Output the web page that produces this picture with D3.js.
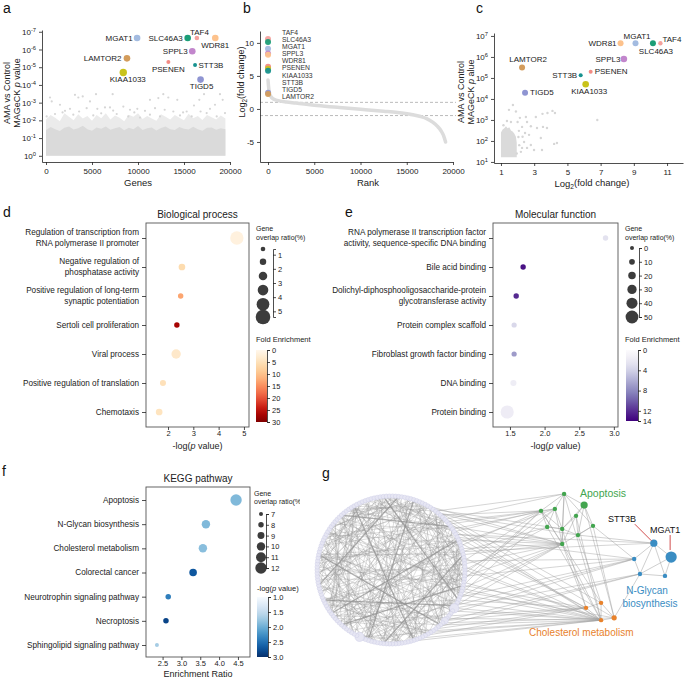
<!DOCTYPE html>
<html>
<head>
<meta charset="utf-8">
<script src="https://cdn.jsdelivr.net/npm/d3@7"></script>
<style>
  body { margin: 0; background: #fff; }
  svg { display: block; font-family: "Liberation Sans", Arial, sans-serif; }
</style>
</head>
<body>
<svg id="fig" width="685" height="679"></svg>
<script>
// ---------- data: screen hits ----------
var genes = ['TAF4', 'SLC46A3', 'MGAT1', 'SPPL3', 'WDR81', 'PSENEN', 'KIAA1033', 'STT3B', 'TIGD5', 'LAMTOR2'];
var geneColors = ['#f4a29e', '#1b9e77', '#a3bbe0', '#c286cc', '#fdc28c', '#f28b84', '#c9c31c', '#17928f', '#8f95d2', '#d39c5c'];
var genePos = [16400, 15400, 9900, 15900, 18400, 13300, 8400, 16200, 16800, 8800];
var geneLogP = [-6.65, -6.65, -6.65, -5.9, -6.65, -5.3, -4.7, -5.13, -4.3, -5.5];
var geneLFC = [10.6, 10.15, 9.1, 8.4, 8.2, 6.4, 6.1, 5.8, 2.45, 2.27];

// panel a background genes (log10 p)
var aBinGene = [0, 500, 1000, 1500, 2000, 2500, 3000, 3500, 4000, 4500, 5000, 5500, 6000, 6500, 7000, 7500, 8000, 8500, 9000, 9500,
  10000, 10500, 11000, 11500, 12000, 12500, 13000, 13500, 14000, 14500, 15000, 15500, 16000, 16500, 17000, 17500, 18000, 18500, 19000, 19500];
var aDenseTop = [-1.45, -1.62, -1.5, -1.4, -1.58, -1.66, -1.48, -1.55, -1.7, -1.5, -1.42, -1.6, -1.52, -1.65, -1.47, -1.56, -1.62, -1.44, -1.58, -1.5,
  -1.68, -1.46, -1.55, -1.6, -1.43, -1.57, -1.66, -1.5, -1.45, -1.62, -1.53, -1.48, -1.64, -1.5, -1.42, -1.58, -1.6, -1.47, -1.55, -1.5];
var aSpeckleTop = [-2.05, -2.3, -2.15, -1.95, -2.4, -2.2, -2.0, -2.35, -2.1, -2.25, -1.98, -2.3, -2.12, -2.4, -2.05, -2.28, -2.15, -1.95, -2.32, -2.2,
  -2.4, -2.08, -2.25, -2.1, -1.98, -2.35, -2.2, -2.05, -2.3, -2.15, -2.0, -2.38, -2.12, -2.25, -2.02, -2.3, -2.18, -2.05, -2.28, -2.1];
var aOutliers = [[435, -3.29], [620, -3.07], [3150, -3.44], [3515, -3.29], [3990, -3.35], [5435, -3.48], [7245, -3.48],
  [5580, -2.65], [6410, -2.73], [6955, -2.73], [9925, -2.65], [11300, -3.16], [12210, -3.26], [12750, -3.48],
  [13295, -3.29], [14270, -3.16], [16085, -2.84], [16665, -3.16], [17175, -3.48], [17825, -2.65], [18370, -2.88],
  [18910, -3.48], [19205, -3.16], [1520, -2.88], [2065, -2.54], [2610, -2.65], [4420, -2.69], [4780, -3.07],
  [8405, -2.78], [9130, -2.6], [10760, -2.54], [11850, -2.69], [13840, -2.5], [15290, -2.5], [17465, -2.41],
  [75, -2.22], [980, -2.36], [2970, -2.32], [5140, -2.28], [7685, -2.36], [8945, -2.22], [10215, -2.16],
  [11300, -2.32], [12390, -2.22], [14565, -2.28], [15835, -2.22], [18555, -2.22], [19455, -2.41],
  [1800, -2.45], [3600, -2.5], [6000, -2.4], [7300, -2.55], [9600, -2.45], [12900, -2.6], [14900, -2.45], [16800, -2.5]];

// panel b ranked fold change curve
var bRank = [0, 60, 150, 300, 600, 1000, 2000, 3000, 5000, 7500, 10000, 12500, 14000, 15500, 16500, 17200, 17800, 18300, 18700, 19000, 19200];
var bLFC = [4.4, 3.4, 2.4, 1.9, 1.5, 1.3, 1.05, 0.9, 0.55, 0.25, -0.05, -0.35, -0.55, -0.85, -1.15, -1.5, -2.0, -2.6, -3.3, -4.1, -5.0];

// panel c background genes
var cBlockLFC = [1.0, 1.1, 1.2, 1.3, 1.4, 1.5, 1.6, 1.7, 1.8, 1.9, 1.95];
var cBlockTop = [-2.4, -2.55, -2.6, -2.7, -2.6, -2.65, -2.5, -2.45, -2.35, -2.2, -1.9];
var cBlockBottom = -1.22;
var cOutliers = [[1.72, -3.71], [1.48, -3.48], [1.9, -3.4], [2.14, -3.1], [2.5, -3.14], [3.1, -3.14], [3.5, -3.29],
  [3.8, -3.33], [4.1, -3.43], [4.25, -3.33], [1.36, -2.95], [2.57, -2.9], [2.8, -2.7], [2.27, -2.67], [3.17, -2.62],
  [3.53, -2.67], [3.77, -2.62], [2.08, -2.48], [2.45, -2.38], [2.69, -2.29], [3.4, -2.14], [2.39, -1.95], [2.8, -1.81],
  [4.2, -1.86], [4.37, -1.9], [3.47, -1.57], [2.99, -1.57], [2.2, -1.48], [2.57, -1.67], [2.1, -1.8], [2.05, -2.19],
  [2.27, -1.67], [6.8, -3.0], [1.6, -2.9], [1.15, -2.75], [2.0, -2.9], [1.95, -1.4], [2.3, -2.2]];

// panel d: GO biological process
var dTerms = [['Regulation of transcription from', 'RNA polymerase II promoter'], ['Negative regulation of', 'phosphatase activity'],
  ['Positive regulation of long-term', 'synaptic potentiation'], ['Sertoli cell proliferation'], ['Viral process'],
  ['Positive regulation of translation'], ['Chemotaxis']];
var dLogP = [4.72, 2.55, 2.5, 2.35, 2.32, 1.8, 1.65];
var dRatio = [4.8, 1.6, 1.0, 1.0, 2.9, 1.3, 1.6];
var dFold = [1.5, 6, 13, 27, 3.5, 5, 4.5];

// panel e: GO molecular function
var eTerms = [['RNA polymerase II transcription factor', 'activity, sequence-specific DNA binding'], ['Bile acid binding'],
  ['Dolichyl-diphosphooligosaccharide-protein', 'glycotransferase activity'], ['Protein complex scaffold'],
  ['Fibroblast growth factor binding'], ['DNA binding'], ['Protein binding']];
var eLogP = [2.88, 1.69, 1.59, 1.56, 1.56, 1.55, 1.46];
var eRatio = [8, 8, 8, 7, 7, 12, 52];
var eFold = [2.7, 13.2, 12.2, 3.5, 7, 1.7, 1.75];

// panel f: KEGG
var fTerms = [['Apoptosis'], ['N-Glycan biosynthesis'], ['Cholesterol metabolism'], ['Colorectal cancer'],
  ['Neurotrophin signaling pathway'], ['Necroptosis'], ['Sphingolipid signaling pathway']];
var fEnrich = [4.45, 3.65, 3.57, 3.31, 2.65, 2.59, 2.35];
var fRatio = [12, 10, 10, 9.4, 8, 8, 7];
var fLogP = [1.9, 1.9, 1.85, 2.7, 2.4, 2.85, 1.7];

// panel g: network (layout units)
var ringCount = 150;
var ringCenter = [23.64, 29.87];
var ringRadius = 19.2;
var apoptosisNodes = [[68.6, 10.1], [73.8, 13.0], [66.2, 14.0], [62.6, 14.5], [71.7, 15.8], [64.2, 18.7], [68.1, 19.2], [76.1, 18.4], [72.2, 20.8], [68.1, 23.1]];
var cholNodes = [[78.2, 38.4], [74.3, 39.7], [81.6, 42.3], [78.2, 42.9]];
var glycanNodes = [[91.9, 22.9], [96.4, 26.5], [86.8, 27.0], [94.8, 31.4], [88.3, 30.9]];
var apoptosisEdges = [[0, 2], [0, 6], [0, 9], [0, 1], [0, 7], [0, 3], [1, 4], [1, 7], [1, 8], [1, 6], [2, 3], [2, 6], [2, 9], [3, 6], [3, 9], [3, 5],
  [4, 6], [4, 9], [5, 6], [6, 9], [7, 8], [6, 8], [7, 9], [2, 5], [4, 8]];
var glycanEdges = [[0, 1], [0, 2], [0, 3], [0, 4], [1, 3], [2, 4], [3, 4], [1, 4]];
var cholEdges = [[0, 3], [1, 3], [2, 3], [0, 2], [0, 1]];
var crossEdges = [['A9', 'C3'], ['A8', 'C0'], ['A7', 'C2'], ['A1', 'C2'], ['A6', 'C1'], ['A5', 'C3'], ['A4', 'C3'], ['A0', 'C3'],
  ['A7', 'N2'], ['A8', 'N0'], ['C2', 'N4'], ['A9', 'C1'], ['A3', 'C0']];
var ringToCluster = [[140, 'A9'], [145, 'A9'], [148, 'A9'], [2, 'A9'], [6, 'A9'], [9, 'A9'], [12, 'A9'], [138, 'A9'], [135, 'A9'], [143, 'A9'],
  [130, 'A3'], [134, 'A3'], [137, 'A3'], [142, 'A3'], [147, 'A3'], [3, 'A3'], [128, 'A0'], [132, 'A0'], [136, 'A2'], [141, 'A2'], [1, 'A2'],
  [144, 'A5'], [0, 'A5'], [146, 'C3'], [149, 'C3'], [4, 'C3'], [8, 'C3'], [11, 'C3'], [14, 'C3'], [17, 'C3'], [20, 'C3'], [24, 'C3'],
  [28, 'C3'], [31, 'C3'], [133, 'C3'], [139, 'C1'], [5, 'C1'], [10, 'C1'], [16, 'C1'], [22, 'C1'], [131, 'C2'], [7, 'C2'], [19, 'C2'],
  [126, 'C0'], [2, 'N2'], [9, 'N2'], [15, 'N2'], [139, 'N2'], [13, 'N4'], [21, 'N4'], [144, 'N0'], [127, 'A6'], [129, 'A8'],
  [125, 'A9'], [129, 'A9'], [133, 'A3'], [0, 'C3'], [6, 'C3'], [13, 'C3'], [18, 'C1'], [23, 'C3'], [26, 'C1'], [136, 'C3'],
  [141, 'C1'], [5, 'A3'], [8, 'A2'], [12, 'N2'], [18, 'N4'], [138, 'N0'], [147, 'N2']];
var ringChords = [[0, 75], [3, 62], [5, 98], [8, 120], [10, 47], [12, 88], [15, 130], [17, 66], [20, 104], [22, 141],
  [25, 70], [27, 112], [30, 90], [32, 135], [35, 80], [37, 118], [40, 95], [42, 145], [45, 100], [47, 127],
  [50, 85], [52, 110], [55, 139], [57, 92], [60, 122], [62, 101], [65, 143], [67, 108], [70, 125], [72, 3],
  [75, 116], [77, 138], [80, 14], [82, 121], [85, 29], [87, 133], [90, 6], [92, 147], [95, 38], [97, 124],
  [100, 19], [102, 60], [105, 137], [107, 31], [110, 9], [112, 73], [115, 44], [117, 148], [120, 58], [122, 26],
  [125, 83], [127, 11], [130, 64], [132, 36], [135, 97], [137, 52], [140, 78], [142, 21], [145, 68], [147, 33],
  [1, 54], [4, 86], [7, 113], [9, 140], [13, 39], [16, 93], [18, 128], [21, 77], [23, 57], [28, 99],
  [31, 146], [34, 71], [36, 109], [39, 84], [41, 131], [44, 63], [46, 119], [49, 2], [51, 96], [54, 134],
  [56, 81], [59, 17], [61, 106], [64, 149], [66, 24], [69, 91], [71, 129], [74, 43], [76, 103], [79, 144],
  [81, 11], [84, 126], [86, 50], [89, 115], [91, 136], [94, 8], [96, 61], [99, 142], [101, 27], [104, 79],
  [106, 132], [109, 53], [111, 4], [114, 89], [116, 40], [119, 67], [121, 0], [123, 46], [126, 94], [128, 19],
  [131, 74], [133, 102], [136, 28], [139, 56], [141, 87], [143, 111], [146, 37], [148, 65], [149, 105], [144, 16],
  [2, 107], [6, 34], [11, 59], [14, 82], [19, 123], [24, 48], [26, 93], [29, 117], [33, 76], [38, 142],
  [43, 88], [48, 127], [53, 100], [58, 141], [63, 10], [68, 113], [73, 148], [78, 30], [83, 135], [88, 5],
  [0, 40], [2, 88], [4, 120], [6, 60], [8, 100], [10, 135], [12, 55], [14, 95], [16, 140], [18, 70],
  [20, 115], [22, 45], [24, 85], [26, 130], [28, 65], [30, 110], [32, 50], [34, 90], [36, 145], [38, 75],
  [40, 120], [42, 80], [44, 105], [46, 140], [48, 90], [50, 125], [52, 15], [54, 100], [56, 130], [58, 20],
  [60, 95], [62, 135], [64, 25], [66, 110], [68, 140], [70, 35], [72, 100], [74, 130], [76, 5], [78, 115],
  [80, 145], [82, 40], [84, 110], [86, 135], [88, 20], [90, 120], [92, 55], [94, 145], [96, 30], [98, 125],
  [100, 60], [102, 140], [104, 35], [106, 75], [108, 10], [110, 45], [112, 140], [114, 20], [116, 85], [118, 50],
  [120, 15], [122, 95], [124, 60], [126, 30], [128, 100], [130, 5], [132, 70], [134, 40], [136, 110], [138, 10],
  [140, 45], [142, 80], [144, 55], [146, 120], [148, 25], [1, 65], [3, 125], [7, 80], [9, 45], [11, 100]];
var ringThick = [[45, 120], [30, 100], [60, 140], [80, 20], [10, 110], [95, 135], [55, 5], [115, 70], [40, 145], [65, 12]];
var ringBig = [13, 48, 18];

// ---------- drawing ----------
var svg = d3.select('#fig');
var defs = svg.append('defs');
var ink = '#222';

function styleAxis(g, fs) {
  g.attr('font-family', null).attr('font-size', fs || 8);
  g.selectAll('path, line').attr('stroke', ink).attr('stroke-width', 0.8);
  g.selectAll('text').attr('fill', ink);
}

function powTicks(g, withMinus) {
  g.selectAll('.tick text').each(function(d) {
    var t = d3.select(this).text(null);
    t.append('tspan').text('10');
    t.append('tspan').attr('dy', '-0.5em').attr('font-size', '0.72em')
      .text(d === 0 ? '0' : (withMinus ? '-' : '') + Math.abs(d));
  });
}

function letter(t, x, y) {
  svg.append('text').attr('x', x).attr('y', y).attr('font-size', 14).attr('fill', '#111').text(t);
}

function pValueTitle(g, x, y) {
  var t = g.append('text').attr('transform', 'translate(' + x + ',' + y + ') rotate(-90)')
    .attr('text-anchor', 'middle').attr('font-size', 9).attr('fill', ink);
  t.append('tspan').attr('x', 0).attr('dy', '-0.2em').text('AMA vs Control');
  var l2 = t.append('tspan').attr('x', 0).attr('dy', '1.05em');
  return l2;
}

function log2Title(t) {
  t.append('tspan').text('Log');
  t.append('tspan').attr('dy', '0.35em').attr('font-size', '0.7em').text('2');
  t.append('tspan').attr('dy', '-0.35em').text('(fold change)');
}

letter('a', 3, 13); letter('b', 243, 13); letter('c', 476, 13);
letter('d', 3, 217); letter('e', 345, 217); letter('f', 2, 476);

// ---------- panel a ----------
var xA = d3.scaleLinear().domain([-435, 20000]).range([42, 230]);
var yA = d3.scaleLinear().domain([0.35, -7.1]).range([162, 30]);
var pa = svg.append('g');
pa.append('path').datum(aBinGene.map(function(g, i) { return [g, aSpeckleTop[i]]; }))
  .attr('fill', '#ebebeb')
  .attr('d', d3.area().x(function(d) { return xA(d[0]); }).y0(yA(0)).y1(function(d) { return yA(d[1]); }));
pa.append('path').datum(aBinGene.map(function(g, i) { return [g, aDenseTop[i]]; }))
  .attr('fill', '#dadada')
  .attr('d', d3.area().x(function(d) { return xA(d[0]); }).y0(yA(0)).y1(function(d) { return yA(d[1]); }));
pa.selectAll('.out').data(aOutliers).enter().append('circle')
  .attr('cx', function(d) { return xA(d[0]); }).attr('cy', function(d) { return yA(d[1]); })
  .attr('r', 1.1).attr('fill', '#d6d6d6');

var aDotR = [2.3, 3.3, 3.3, 3.3, 3.3, 2, 3.7, 2, 3.3, 3.3];
// [anchor, dx, dy]
var aLabelPos = [['middle', 2.5, -5.5], ['end', -5, 0], ['end', -4.5, 0], ['end', -4.5, 0], ['middle', 0, 7],
  ['middle', 0, 7], ['middle', 4.5, 6.5], ['start', 3.5, 0], ['middle', 1, 7], ['end', -5.5, 0]];
genes.forEach(function(name, i) {
  var cx = xA(genePos[i]), cy = yA(geneLogP[i]);
  pa.append('circle').attr('cx', cx).attr('cy', cy).attr('r', aDotR[i]).attr('fill', geneColors[i]);
  pa.append('text').attr('x', cx + aLabelPos[i][1]).attr('y', cy + aLabelPos[i][2]).attr('dy', '0.35em')
    .attr('text-anchor', aLabelPos[i][0]).attr('font-size', 8).attr('fill', ink).text(name);
});
var axA = pa.append('g').attr('transform', 'translate(0,162)')
  .call(d3.axisBottom(xA).tickValues([0, 5000, 10000, 15000, 20000]).tickFormat(d3.format('d')).tickSize(3).tickSizeOuter(0));
styleAxis(axA);
var ayA = pa.append('g').attr('transform', 'translate(42,0)')
  .call(d3.axisLeft(yA).tickValues([0, -1, -2, -3, -4, -5, -6, -7]).tickSize(3).tickSizeOuter(0));
styleAxis(ayA);
powTicks(ayA, true);
pa.append('text').attr('x', 138).attr('y', 186).attr('text-anchor', 'middle').attr('font-size', 9.5).attr('fill', ink).text('Genes');
var ta = pValueTitle(pa, 12, 93);
ta.append('tspan').text('MAGeCK ');
ta.append('tspan').attr('font-style', 'italic').text('p');
ta.append('tspan').text(' value');

// ---------- panel b ----------
var xB = d3.scaleLinear().domain([-865, 20000]).range([260, 453]);
var yB = d3.scaleLinear().domain([-8.03, 11.8]).range([162, 31]);
var pb = svg.append('g');
[1, -1].forEach(function(v) {
  pb.append('line').attr('x1', 260).attr('x2', 456).attr('y1', yB(v)).attr('y2', yB(v))
    .attr('stroke', '#aaa').attr('stroke-width', 0.8).attr('stroke-dasharray', '3,2');
});
pb.append('path').datum(bRank.map(function(r, i) { return [r, bLFC[i]]; }))
  .attr('fill', 'none').attr('stroke', '#dcdcdc').attr('stroke-width', 3.5).attr('stroke-linecap', 'round')
  .attr('d', d3.line().curve(d3.curveMonotoneX).x(function(d) { return xB(d[0]); }).y(function(d) { return yB(d[1]); }));
genes.forEach(function(name, i) {
  pb.append('circle').attr('cx', xB(i)).attr('cy', yB(geneLFC[i])).attr('r', 3).attr('fill', geneColors[i]).attr('opacity', 0.95);
});
var yBL = d3.scalePoint().domain(genes).range([32.3, 96.7]);
pb.selectAll('.bl').data(genes).enter().append('text')
  .attr('x', 282).attr('y', function(d) { return yBL(d); }).attr('dy', '0.35em')
  .attr('font-size', 6.8).attr('fill', '#333').text(function(d) { return d; });
var axB = pb.append('g').attr('transform', 'translate(0,162)')
  .call(d3.axisBottom(xB).tickValues([0, 5000, 10000, 15000, 20000]).tickFormat(d3.format('d')).tickSize(3).tickSizeOuter(0));
styleAxis(axB);
var ayB = pb.append('g').attr('transform', 'translate(260,0)')
  .call(d3.axisLeft(yB).tickValues([-5, 0, 5, 10]).tickFormat(function(d) { return String(d); }).tickSize(3).tickSizeOuter(0));
styleAxis(ayB);
pb.append('text').attr('x', 368).attr('y', 186).attr('text-anchor', 'middle').attr('font-size', 9.5).attr('fill', ink).text('Rank');
log2Title(pb.append('text').attr('transform', 'translate(245,82) rotate(-90)').attr('text-anchor', 'middle')
  .attr('font-size', 9).attr('fill', ink));

// ---------- panel c ----------
var xC = d3.scaleLinear().domain([0.58, 11.96]).range([494, 683]);
var yC = d3.scaleLinear().domain([-0.95, -7.14]).range([163, 33]);
var pc = svg.append('g');
pc.append('path').datum(cBlockLFC.map(function(v, i) { return [v, cBlockTop[i]]; }))
  .attr('fill', '#dadada')
  .attr('d', d3.area().x(function(d) { return xC(d[0]); }).y0(yC(cBlockBottom)).y1(function(d) { return yC(d[1]); }));
pc.selectAll('.out').data(cOutliers).enter().append('circle')
  .attr('cx', function(d) { return xC(d[0]); }).attr('cy', function(d) { return yC(d[1]); })
  .attr('r', 1.2).attr('fill', '#d6d6d6');
var cDotR = [2.2, 3, 3, 3.3, 3, 2, 3.3, 2, 3, 3];
var cLabelPos = [['start', 2, -4], ['middle', 3, 8], ['middle', 1.5, -7], ['end', -3.5, 0], ['end', -4, 0],
  ['start', 4, 0], ['middle', 3.5, 7], ['end', -3.5, 0], ['start', 5, 0], ['middle', 6, -8]];
genes.forEach(function(name, i) {
  var cx = xC(geneLFC[i]), cy = yC(geneLogP[i]);
  pc.append('circle').attr('cx', cx).attr('cy', cy).attr('r', cDotR[i]).attr('fill', geneColors[i]);
  pc.append('text').attr('x', cx + cLabelPos[i][1]).attr('y', cy + cLabelPos[i][2]).attr('dy', '0.35em')
    .attr('text-anchor', cLabelPos[i][0]).attr('font-size', 8).attr('fill', ink).text(name);
});
var axC = pc.append('g').attr('transform', 'translate(0,163)')
  .call(d3.axisBottom(xC).tickValues([1, 3, 5, 7, 9, 11]).tickSize(3).tickSizeOuter(0));
styleAxis(axC);
var ayC = pc.append('g').attr('transform', 'translate(494,0)')
  .call(d3.axisLeft(yC).tickValues([-1, -2, -3, -4, -5, -6, -7]).tickSize(3).tickSizeOuter(0));
styleAxis(ayC);
powTicks(ayC, false);
log2Title(pc.append('text').attr('x', 592).attr('y', 187).attr('text-anchor', 'middle').attr('font-size', 9.5).attr('fill', ink));
var tc = pValueTitle(pc, 466, 92);
tc.append('tspan').text('MAGeCK ');
tc.append('tspan').attr('font-style', 'italic').text('p');
tc.append('tspan').text(' alue');

// ---------- bubble panels ----------
function bubblePanel(cfg) {
  var g = svg.append('g');
  var x = d3.scaleLinear().domain(cfg.xDomain).range([cfg.left, cfg.right]);
  var y = d3.scalePoint().domain(d3.range(cfg.terms.length)).range(cfg.rows);
  g.append('text').attr('x', (cfg.left + cfg.right) / 2).attr('y', cfg.titleY).attr('text-anchor', 'middle')
    .attr('font-size', 10).attr('fill', ink).text(cfg.title);
  g.append('rect').attr('x', cfg.left).attr('y', cfg.top).attr('width', cfg.right - cfg.left)
    .attr('height', cfg.bottom - cfg.top).attr('fill', 'none').attr('stroke', '#555').attr('stroke-width', 0.9);
  var ax = g.append('g').attr('transform', 'translate(0,' + cfg.bottom + ')')
    .call(d3.axisBottom(x).tickValues(cfg.ticks).tickFormat(cfg.fmt).tickSize(3).tickSizeOuter(0));
  ax.select('.domain').remove();
  styleAxis(ax, 7.5);
  ax.selectAll('text').attr('y', 4);
  var ay = g.append('g').attr('transform', 'translate(' + cfg.left + ',0)')
    .call(d3.axisLeft(y).tickSize(4).tickFormat(''));
  ay.select('.domain').remove();
  styleAxis(ay);
  cfg.terms.forEach(function(lines, i) {
    var t = g.append('text').attr('text-anchor', 'end').attr('font-size', 8.2).attr('fill', ink);
    lines.forEach(function(line, k) {
      t.append('tspan').attr('x', cfg.left - 7)
        .attr('y', y(i) + (lines.length === 1 ? 0 : (k === 0 ? -5.8 : 5.2))).attr('dy', '0.35em').text(line);
    });
  });
  g.selectAll('.bub').data(cfg.terms.map(function(d, i) { return i; })).enter().append('circle')
    .attr('cx', function(i) { return x(cfg.xv[i]); }).attr('cy', function(i) { return y(i); })
    .attr('r', function(i) { return cfg.r(cfg.sv[i]); })
    .attr('fill', function(i) { return cfg.color(cfg.cv[i]); });
  var xt = g.append('text').attr('x', (cfg.left + cfg.right) / 2).attr('y', cfg.xTitleY).attr('text-anchor', 'middle')
    .attr('font-size', 9).attr('fill', ink);
  cfg.xTitle(xt);
  return g;
}

function pLogTitle(t) {
  t.append('tspan').text('-log(');
  t.append('tspan').attr('font-style', 'italic').text('p');
  t.append('tspan').text(' value)');
}

function sizeLegend(cfg) {
  var g = svg.append('g');
  cfg.title.forEach(function(line, k) {
    g.append('text').attr('x', cfg.tx).attr('y', cfg.ty + k * cfg.lineGap).attr('dy', '0.35em')
      .attr('font-size', 7).attr('fill', ink).text(line);
  });
  var ys = d3.scaleLinear().domain(cfg.domain).range(cfg.range);
  g.selectAll('.lc').data(cfg.circles).enter().append('circle')
    .attr('cx', cfg.cx).attr('cy', function(d) { return ys(d); }).attr('r', function(d) { return cfg.r(d); })
    .attr('fill', '#3c3c3c');
  var ax = g.append('g').attr('transform', 'translate(' + cfg.axisX + ',0)')
    .call(d3.axisRight(ys).tickValues(cfg.ticks).tickFormat(d3.format('d')).tickSize(3).tickSizeOuter(3));
  styleAxis(ax, 7.5);
  ax.selectAll('text').attr('x', 5);
}

function colorLegend(cfg) {
  var g = svg.append('g');
  var t = g.append('text').attr('x', cfg.tx).attr('y', cfg.ty).attr('dy', '0.35em').attr('font-size', 7.5).attr('fill', ink);
  if (typeof cfg.title === 'string') t.text(cfg.title); else cfg.title(t);
  var grad = defs.append('linearGradient').attr('id', cfg.id).attr('x1', 0).attr('y1', 0).attr('x2', 0).attr('y2', 1);
  d3.range(0, 1.0001, 0.1).forEach(function(o) {
    grad.append('stop').attr('offset', o).attr('stop-color', cfg.interp(o));
  });
  g.append('rect').attr('x', cfg.x).attr('y', cfg.range[0]).attr('width', cfg.w)
    .attr('height', cfg.range[1] - cfg.range[0]).attr('fill', 'url(#' + cfg.id + ')');
  var ys = d3.scaleLinear().domain(cfg.domain).range(cfg.range);
  var ax = g.append('g').attr('transform', 'translate(' + (cfg.x + cfg.w) + ',0)')
    .call(d3.axisRight(ys).tickValues(cfg.ticks).tickFormat(cfg.fmt).tickSize(3).tickSizeOuter(3));
  styleAxis(ax, 7.5);
  ax.selectAll('text').attr('x', 5);
}

// panel d
var dColor = d3.scaleSequential(d3.interpolateOrRd).domain([0, 30]);
var dR = d3.scaleLinear().domain([0.6, 5.4]).range([2.3, 7.3]);
bubblePanel({ terms: dTerms, xv: dLogP, sv: dRatio, cv: dFold, r: dR, color: dColor,
  left: 146, right: 249, top: 223, bottom: 427, rows: [238, 412], xDomain: [1.13, 5.2],
  ticks: [2, 3, 4, 5], fmt: d3.format('d'), title: 'Biological process', titleY: 218,
  xTitleY: 449, xTitle: pLogTitle });
sizeLegend({ tx: 256, ty: 229, lineGap: 9, title: ['Gene', 'overlap ratio(%)'], cx: 263, circles: [0.6, 1.5, 2.5, 3.5, 4.5, 5.4],
  r: dR, domain: [0.6, 5.4], range: [249, 317], ticks: [1, 2, 3, 4, 5], axisX: 273 });
colorLegend({ id: 'gd', tx: 256, ty: 339, title: 'Fold Enrichment', x: 256, w: 11, range: [350, 422],
  interp: d3.interpolateOrRd, domain: [0, 30], ticks: [0, 5, 10, 15, 20, 25, 30], fmt: d3.format('d') });

// panel e
var eColor = d3.scaleSequential(d3.interpolatePurples).domain([0, 14]);
var eR = d3.scaleLinear().domain([0, 50]).range([2, 6.4]);
bubblePanel({ terms: eTerms, xv: eLogP, sv: eRatio, cv: eFold, r: eR, color: eColor,
  left: 493, right: 618, top: 223, bottom: 427, rows: [238, 412], xDomain: [1.255, 3.06],
  ticks: [1.5, 2.0, 2.5, 3.0], fmt: d3.format('.1f'), title: 'Molecular function', titleY: 218,
  xTitleY: 449, xTitle: pLogTitle });
sizeLegend({ tx: 625, ty: 229, lineGap: 9, title: ['Gene', 'overlap ratio(%)'], cx: 632, circles: [0, 10, 20, 30, 40, 50],
  r: eR, domain: [0, 50], range: [248, 317], ticks: [0, 10, 20, 30, 40, 50], axisX: 639 });
colorLegend({ id: 'ge', tx: 625, ty: 339, title: 'Fold Enrichment', x: 626, w: 12, range: [350, 421],
  interp: d3.interpolatePurples, domain: [0, 14], ticks: [0, 4, 8, 12, 14], fmt: d3.format('d') });

// panel f
var fColor = d3.scaleSequential(d3.interpolateBlues).domain([1, 3]);
var fR = d3.scaleLinear().domain([7, 12]).range([2, 5.7]);
bubblePanel({ terms: fTerms, xv: fEnrich, sv: fRatio, cv: fLogP, r: fR, color: fColor,
  left: 146, right: 250, top: 487, bottom: 657, rows: [500, 645], xDomain: [2.06, 4.82],
  ticks: [2.5, 3.0, 3.5, 4.0, 4.5], fmt: d3.format('.1f'), title: 'KEGG pathway', titleY: 482,
  xTitleY: 677, xTitle: function(t) { t.text('Enrichment Ratio'); } });
sizeLegend({ tx: 254, ty: 494, lineGap: 8, title: ['Gene', 'overlap ratio(%)'], cx: 261, circles: [7, 8, 9, 10, 11, 12],
  r: fR, domain: [7, 12], range: [514, 568], ticks: [7, 8, 9, 10, 11, 12], axisX: 266 });
colorLegend({ id: 'gf', tx: 257, ty: 588, title: pLogTitle, x: 257, w: 11, range: [597, 657],
  interp: d3.interpolateBlues, domain: [1, 3], ticks: [1, 1.5, 2, 2.5, 3], fmt: d3.format('.1f') });

// ---------- panel g ----------
var pg = svg.append('g');
pg.append('rect').attr('x', 300).attr('y', 462).attr('width', 385).attr('height', 217).attr('fill', '#fff');
letter('g', 322, 478);
var xG = d3.scaleLinear().domain([0, 100]).range([300, 685]);
var yG = d3.scaleLinear().domain([0, 58.18]).range([455, 679]);
var ringAngle = d3.scaleLinear().domain([0, ringCount]).range([0, 2 * Math.PI]);
var ringPx = xG(ringCenter[0] + ringRadius) - xG(ringCenter[0]);
function ringNode(i) {
  var a = ringAngle(i % ringCount);
  return [xG(ringCenter[0]) + ringPx * Math.cos(a), yG(ringCenter[1]) + ringPx * Math.sin(a)];
}
var clusters = { A: apoptosisNodes, C: cholNodes, N: glycanNodes };
function nodePx(id) {
  var n = clusters[id[0]][+id.slice(1)];
  return [xG(n[0]), yG(n[1])];
}
function edge(p, q, w, c, o) {
  pg.append('line').attr('x1', p[0]).attr('y1', p[1]).attr('x2', q[0]).attr('y2', q[1])
    .attr('stroke', c || '#9a9a9a').attr('stroke-width', w || 0.55).attr('stroke-opacity', o || 0.6);
}
ringChords.forEach(function(c) { edge(ringNode(c[0]), ringNode(c[1])); });
ringThick.forEach(function(c) { edge(ringNode(c[0]), ringNode(c[1]), 1.3, '#8f8f8f', 0.7); });
ringToCluster.forEach(function(c) { edge(ringNode(c[0]), nodePx(c[1]), 0.6, '#a0a0a0', 0.75); });
crossEdges.forEach(function(c) { edge(nodePx(c[0]), nodePx(c[1]), 0.6, '#a0a0a0', 0.8); });
apoptosisEdges.forEach(function(e) { edge(nodePx('A' + e[0]), nodePx('A' + e[1]), 0.6, '#a0a0a0', 0.85); });
glycanEdges.forEach(function(e) { edge(nodePx('N' + e[0]), nodePx('N' + e[1]), 0.6, '#a0a0a0', 0.85); });
cholEdges.forEach(function(e) { edge(nodePx('C' + e[0]), nodePx('C' + e[1]), 0.6, '#a0a0a0', 0.85); });

pg.selectAll('.ring').data(d3.range(ringCount)).enter().append('circle')
  .attr('cx', function(i) { return ringNode(i)[0]; }).attr('cy', function(i) { return ringNode(i)[1]; })
  .attr('r', function(i) { var k = ringBig.indexOf(i); return k === 0 || k === 1 ? 4.6 : (k === 2 ? 3.4 : 2.2); })
  .attr('fill', '#e6e6f3').attr('stroke', '#cfcfe6').attr('stroke-width', 0.5);

var clusterStyle = { A: ['#43a54f', [2.2, 3.6, 2.2, 2.2, 2.2, 2.2, 2.2, 2.2, 2.2, 2.2]],
  C: ['#e8822c', [2.2, 2.2, 2.6, 2.2]],
  N: ['#3a8dc3', [3.6, 5.6, 2.2, 2.2, 2.2]] };
Object.keys(clusters).forEach(function(k) {
  clusters[k].forEach(function(n, i) {
    pg.append('circle').attr('cx', xG(n[0])).attr('cy', yG(n[1])).attr('r', clusterStyle[k][1][i]).attr('fill', clusterStyle[k][0]);
  });
});

pg.append('text').attr('x', 580).attr('y', 497).attr('font-size', 10.5).attr('fill', '#43a54f').text('Apoptosis');
pg.append('text').attr('x', 529).attr('y', 636).attr('font-size', 10).attr('fill', '#e8822c').text('Cholesterol metabolism');
pg.append('text').attr('x', 647).attr('y', 594).attr('text-anchor', 'middle').attr('font-size', 10).attr('fill', '#3a8dc3').text('N-Glycan');
pg.append('text').attr('x', 650).attr('y', 607).attr('text-anchor', 'middle').attr('font-size', 10).attr('fill', '#3a8dc3').text('biosynthesis');
var stt = nodePx('N0'), mg = nodePx('N1');
pg.append('line').attr('x1', stt[0] - 19).attr('y1', stt[1] - 19).attr('x2', stt[0] - 2.5).attr('y2', stt[1] - 2.5)
  .attr('stroke', '#cc3b3b').attr('stroke-width', 0.9);
pg.append('line').attr('x1', mg[0] - 1).attr('y1', mg[1] - 22).attr('x2', mg[0] - 1).attr('y2', mg[1] - 7)
  .attr('stroke', '#cc3b3b').attr('stroke-width', 0.9);
pg.append('text').attr('x', 608).attr('y', 522).attr('font-size', 9).attr('fill', '#111').text('STT3B');
pg.append('text').attr('x', 650).attr('y', 533).attr('font-size', 9).attr('fill', '#111').text('MGAT1');
</script>
</body>
</html>
